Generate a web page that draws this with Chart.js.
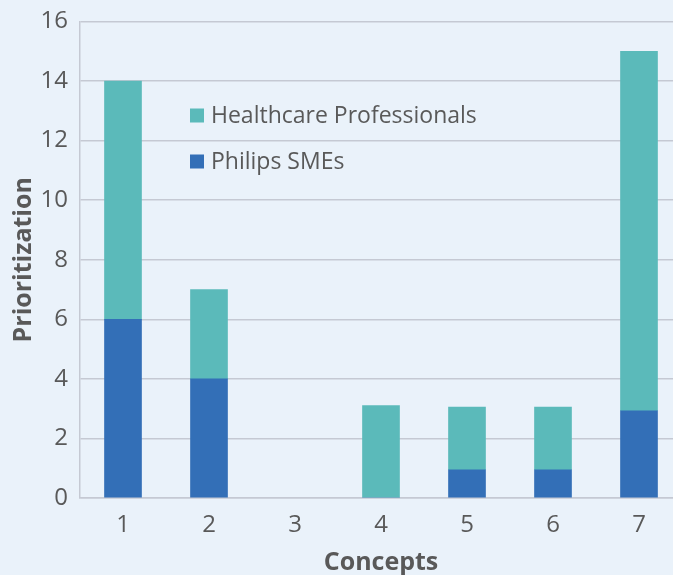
<!DOCTYPE html>
<html>
<head>
<meta charset="utf-8">
<script src="https://cdn.jsdelivr.net/npm/chart.js@4/dist/chart.umd.min.js"></script>
<style>
  html, body { margin: 0; padding: 0; background: #eaf2fa; overflow: hidden; }
  .wrap { width: 682px; height: 575px; }
</style>
</head>
<body>
<div class="wrap"><canvas id="conceptChart" width="682" height="575"></canvas></div>
<script>
const concepts = ['1', '2', '3', '4', '5', '6', '7'];
const philipsSmes = [6, 4, null, 0, 0.95, 0.95, 2.93];
const healthcarePros = [8, 3, null, 3.1, 2.1, 2.1, 12.07];
const yTicks = [0, 2, 4, 6, 8, 10, 12, 14, 16];

const textColor = '#595959';
const gridColor = '#c5c9d3';
const fontFamily = "'Open Sans', sans-serif";

// legend drawn inside the plot, upper left
const innerLegend = {
  id: 'innerLegend',
  afterDatasetsDraw(chart) {
    const { ctx, chartArea } = chart;
    const items = chart.data.datasets.slice().reverse();
    ctx.save();
    ctx.font = '23px ' + fontFamily;
    ctx.textBaseline = 'middle';
    items.forEach((ds, i) => {
      const x = chartArea.left + 110;
      const y = chartArea.top + 94 + i * 46;
      ctx.fillStyle = ds.backgroundColor;
      ctx.fillRect(x, y - 7, 14, 14);
      ctx.fillStyle = textColor;
      ctx.fillText(ds.label, x + 21, y + 1);
    });
    ctx.restore();
  }
};

const ctx = document.getElementById('conceptChart').getContext('2d');
new Chart(ctx, {
  type: 'bar',
  data: {
    labels: concepts,
    datasets: [
      {
        label: 'Philips SMEs',
        data: philipsSmes,
        backgroundColor: '#336fb7',
        barThickness: 37
      },
      {
        label: 'Healthcare Professionals',
        data: healthcarePros,
        backgroundColor: '#5bbaba',
        barThickness: 37
      }
    ]
  },
  options: {
    responsive: false,
    animation: false,
    layout: { padding: 0 },
    plugins: {
      legend: { display: false },
      tooltip: { enabled: false }
    },
    scales: {
      x: {
        stacked: true,
        afterFit(scale) { scale.height = 77; },
        grid: { display: false, drawTicks: false },
        border: { display: true, color: gridColor, width: 1.5 },
        ticks: { color: textColor, font: { family: fontFamily, size: 24 }, padding: 13 },
        title: {
          display: true,
          text: 'Concepts',
          color: textColor,
          font: { family: fontFamily, size: 25, weight: 'bold', lineHeight: 1 },
          padding: { top: 0, bottom: 0 }
        }
      },
      y: {
        stacked: true,
        min: 0,
        max: 16,
        afterBuildTicks(scale) { scale.ticks = yTicks.map(v => ({ value: v })); },
        afterFit(scale) {
          scale.width = 80;
          scale.paddingTop = 21.5;
          scale.paddingBottom = 0;
        },
        grid: { color: gridColor, lineWidth: 1.5, drawTicks: false },
        border: { display: true, color: gridColor, width: 1.5 },
        ticks: { color: textColor, font: { family: fontFamily, size: 24 }, padding: 12 },
        title: {
          display: true,
          text: 'Prioritization',
          color: textColor,
          font: { family: fontFamily, size: 25, weight: 'bold' },
          padding: { top: 9, bottom: 0 }
        }
      }
    }
  },
  plugins: [innerLegend]
});
</script>
</body>
</html>
